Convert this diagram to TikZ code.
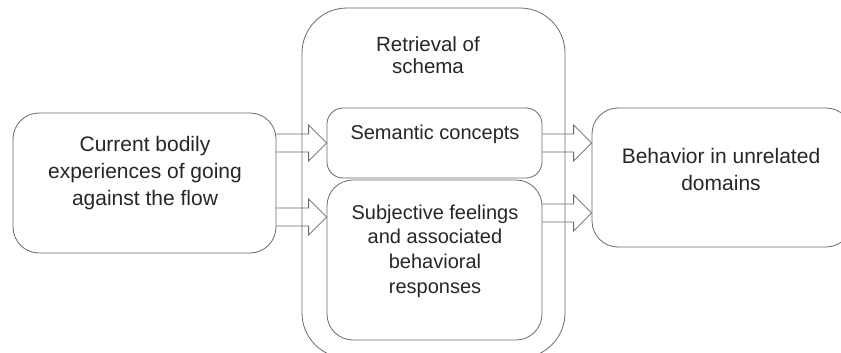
\documentclass[tikz,border=0pt]{standalone}
\usepackage{fontspec}
\setmainfont{Liberation Sans}
\usetikzlibrary{calc}
\definecolor{linegray}{HTML}{6A6A6A}
\definecolor{textgray}{HTML}{262626}
\tikzset{
  box/.style={draw=linegray, line width=0.8pt, rounded corners=#1, inner sep=0pt},
  box/.default=20pt,
  txt/.style={text=textgray, align=center, inner sep=0pt},
  blk/.style={draw=linegray, line width=0.8pt, line join=miter}
}
\newcommand\barrow[3]{%
  \path (#1.east |- 0,#3) coordinate (s) (#2.west |- 0,#3) coordinate (t);
  \draw[blk] ($(s)+(0,-9)$) -- ($(t)+(-18,-9)$) -- ($(t)+(-18,-18)$) -- (t)
    -- ($(t)+(-18,18)$) -- ($(t)+(-18,9)$) -- ($(s)+(0,9)$);
}
\begin{document}
\begin{tikzpicture}[x=1pt, y=-1pt]
\useasboundingbox (0,0) rectangle (841,353);
\clip (0,0) rectangle (841,353);
% container
\node[box=45pt, minimum width=263pt, minimum height=350pt] (cont) at (433.5,183) {};
\node[txt, font=\fontsize{20.5}{22}\selectfont] (conttxt) at (428,55) {Retrieval of\\schema};
% left
\node[box=26pt, minimum width=263pt, minimum height=140pt] (left) at (144.5,183) {};
\node[txt, font=\fontsize{21}{27}\selectfont] (lefttxt) at (145,173) {Current bodily\\experiences of going\\against the flow};
% semantic
\node[box=16pt, minimum width=215pt, minimum height=70pt] (sem) at (434.5,143) {};
\node[txt, font=\fontsize{20}{24}\selectfont] (semtxt) at (435,134) {Semantic concepts};
% subjective
\node[box=26pt, minimum width=215pt, minimum height=160pt] (sub) at (434.5,260) {};
\node[txt, font=\fontsize{20}{24.7}\selectfont] (subtxt) at (435,251) {Subjective feelings\\and associated\\behavioral\\responses};
% right
\node[box=26pt, minimum width=260pt, minimum height=139pt] (right) at (722,177.5) {};
\node[txt, font=\fontsize{21}{27}\selectfont] (righttxt) at (721,169) {Behavior in unrelated\\domains};
% arrows
\barrow{left}{sem}{143}
\barrow{left}{sub}{217}
\barrow{sem}{right}{143}
\barrow{sub}{right}{213}
\end{tikzpicture}
\end{document}
